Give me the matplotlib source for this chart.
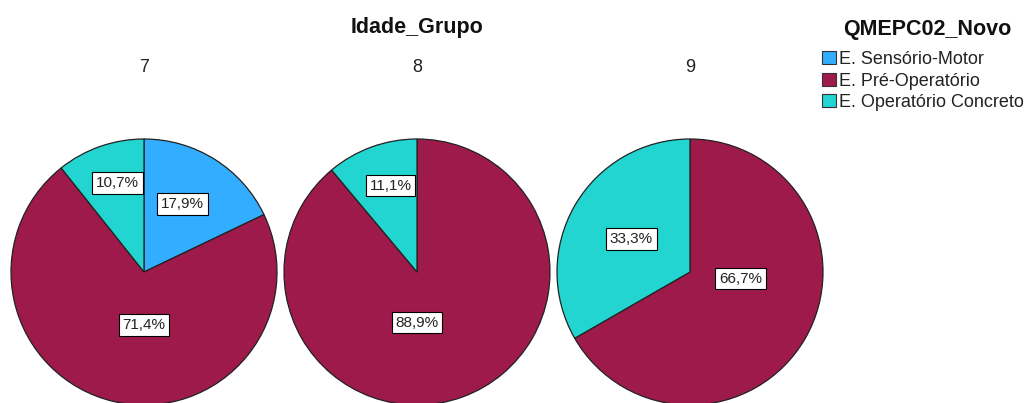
import numpy as np
import matplotlib
matplotlib.use("Agg")
import matplotlib.pyplot as plt
from matplotlib.patches import Patch

plt.rcParams['font.family'] = ['Liberation Sans', 'DejaVu Sans']

groups = ['7', '8', '9']
categories = ['E. Sensório-Motor', 'E. Pré-Operatório', 'E. Operatório Concreto']
sensorio = [17.9, 0.0, 0.0]
pre_op = [71.4, 88.9, 66.7]
concreto = [10.7, 11.1, 33.3]
colors = ['#33adff', '#9e1a4b', '#22d5d0']

# label offsets (in radius units) like SPSS places them
label_off = [
    [(0.29, 0.51), (0.0, -0.40), (-0.20, 0.67)],
    [None, (0.0, -0.38), (-0.20, 0.65)],
    [None, (0.38, -0.05), (-0.44, 0.25)],
]

W, H = 1030, 403
fig = plt.figure(figsize=(W / 100, H / 100), dpi=100)
ax = fig.add_axes([0, 0, 1, 1])
ax.set_aspect('equal')
ax.axis('off')

R = 133
cx = [144, 417, 690]
cy = H - 272

for i, g in enumerate(groups):
    vals = [sensorio[i], pre_op[i], concreto[i]]
    keep = [k for k, v in enumerate(vals) if v > 0]
    ax.pie([vals[k] for k in keep], colors=[colors[k] for k in keep],
           startangle=90, counterclock=False, center=(cx[i], cy), radius=R,
           frame=True, wedgeprops=dict(edgecolor='#222222', linewidth=0.9))
    for k in keep:
        dx, dy = label_off[i][k]
        ax.text(cx[i] + dx * R, cy + dy * R, f'{vals[k]:.1f}%'.replace('.', ','),
                ha='center', va='center', fontsize=11, color='#222222',
                bbox=dict(boxstyle='square,pad=0.25', fc='white', ec='black', lw=0.8))
    ax.text(cx[i], H - 67, g, ha='center', va='center', fontsize=13, color='#222222')

ax.set_xlim(0, W)
ax.set_ylim(0, H)
ax.text(cx[1], H - 27, 'Idade_Grupo', ha='center', va='center', fontsize=15.5,
        fontweight='bold', color='#111111')

ax.text(927, H - 30, 'QMEPC02_Novo', ha='center', va='center', fontsize=15.5,
        fontweight='bold', color='#111111')
handles = [Patch(facecolor=c, edgecolor='#333333', linewidth=0.8) for c in colors]
leg = fig.legend(handles, categories, loc='upper left',
                 bbox_to_anchor=(822 / W, 1 - 51 / H), frameon=False, fontsize=13,
                 handlelength=0.75, handleheight=0.75, handletextpad=0.2,
                 labelspacing=0.25, borderpad=0, borderaxespad=0)
for t in leg.get_texts():
    t.set_color('#222222')

fig.savefig('out.png', dpi=100)
